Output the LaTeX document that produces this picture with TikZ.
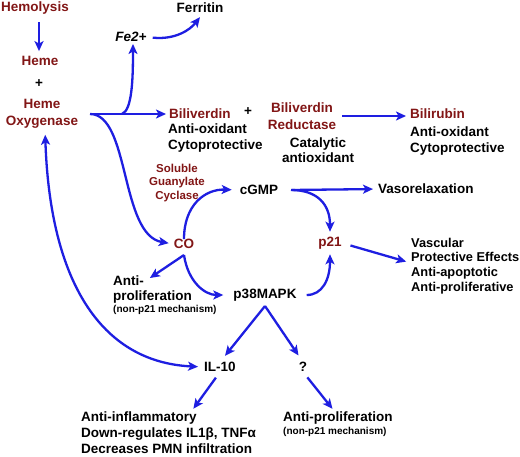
\documentclass[tikz,border=0pt]{standalone}
\usepackage{fontspec}
\setmainfont{Liberation Sans}
\usetikzlibrary{arrows.meta}
\definecolor{hred}{RGB}{130,22,22}
\definecolor{hblue}{RGB}{30,30,225}
\newcommand\tinyfnt{\bfseries\fontsize{10}{12}\selectfont}
\tikzset{
 lbl/.style={font=\bfseries\fontsize{13.5}{15}\selectfont, inner sep=0pt},
 rlbl/.style={lbl, text=hred},
 smalllbl/.style={font=\bfseries\fontsize{11.5}{13.5}\selectfont, inner sep=0pt},
 arr/.style={draw=hblue, line width=2.3pt, -{Stealth[length=10pt,width=9pt,inset=2.5pt]}},
 dblarr/.style={draw=hblue, line width=2.3pt, {Stealth[length=10pt,width=9pt,inset=2.5pt]}-{Stealth[length=10pt,width=9pt,inset=2.5pt]}},
}
\begin{document}
\begin{tikzpicture}[x=1pt,y=-1pt]
\useasboundingbox[fill=white] (0,0) rectangle (520,456);
% nodes
\node[rlbl] (hemolysis) at (35,8) {Hemolysis};
\node[rlbl] (heme) at (40,61) {Heme};
\node[lbl] (plus1) at (39,84) {+};
\node[rlbl, align=center, font=\bfseries\fontsize{13.5}{17}\selectfont] (ho) at (42,114) {Heme\\Oxygenase};
\node[lbl, font=\bfseries\itshape\fontsize{13.5}{15}\selectfont] (fe) at (131,37) {Fe2+};
\node[lbl] (ferritin) at (200,8) {Ferritin};
\node[rlbl, anchor=west] (biliverdin) at (169,114) {Biliverdin};
\node[lbl] (plus2) at (248,112) {+};
\node[lbl, anchor=north west, align=left, font=\bfseries\fontsize{13.5}{16}\selectfont] (bvtxt) at (168,124) {Anti-oxidant\\Cytoprotective};
\node[rlbl, align=center, font=\bfseries\fontsize{13.5}{17}\selectfont] (bvr) at (302,116) {Biliverdin\\Reductase};
\node[lbl, align=center, font=\bfseries\fontsize{13.5}{15.5}\selectfont] (cat) at (318,150) {Catalytic\\antioxidant};
\node[rlbl, anchor=west] (bilirubin) at (410,114) {Bilirubin};
\node[lbl, anchor=north west, align=left, font=\bfseries\fontsize{13.5}{15.5}\selectfont] (brtxt) at (410,127) {Anti-oxidant\\Cytoprotective};
\node[smalllbl, text=hred, align=center] (sgc) at (177,183) {Soluble\\Guanylate\\Cyclase};
\node[rlbl] (co) at (184,244) {CO};
\node[lbl] (cgmp) at (259,190) {cGMP};
\node[lbl, anchor=west] (vaso) at (378,189) {Vasorelaxation};
\node[rlbl] (p21) at (330,243) {p21};
\node[lbl, anchor=west, align=left, font=\bfseries\fontsize{12.8}{14.7}\selectfont] (vasc) at (411,266) {Vascular\\Protective Effects\\Anti-apoptotic\\Anti-proliferative};
\node[lbl, anchor=north west, align=left] (antip1) at (113,276) {Anti-\\proliferation\\[-3pt]{\tinyfnt(non-p21 mechanism)}};
\node[lbl] (p38) at (265,295) {p38MAPK};
\node[lbl] (il10) at (220,367) {IL-10};
\node[lbl] (q) at (303,367) {?};
\node[lbl, anchor=north west, align=left, font=\bfseries\fontsize{13.5}{16}\selectfont] (antiinf) at (81,412) {Anti-inflammatory\\Down-regulates IL1β, TNFα\\Decreases PMN infiltration};
\node[lbl, anchor=north west, align=left] (antip2) at (283,412) {Anti-proliferation\\[-2pt]{\tinyfnt(non-p21 mechanism)}};
% coordinates
\coordinate (hoout) at (90,114);
\coordinate (branch) at (122,114);
\coordinate (cgout) at (291,190);
\coordinate (cobot) at (184,255);
\coordinate (apex) at (265,306);
% connectors
\draw[arr, shorten <=8pt, shorten >=5pt] (hemolysis.south -| 39,0) -- (heme.north -| 39,0);
\draw[arr, shorten >=3pt] (hoout) -- (biliverdin.west);
\draw[arr] (branch) .. controls (132,110) and (133,80) .. ([xshift=2pt,yshift=-2pt]fe.south);
\draw[arr, shorten <=6pt] (fe.east) .. controls (175,40) and (190,30) .. ([yshift=-4pt]ferritin.south);
\draw[arr, shorten <=6pt, shorten >=4pt] (bvr.east |- 0,116) -- (bilirubin.west |- 0,116);
\draw[arr, shorten >=5pt] (hoout) .. controls (130,114) and (120,235) .. (co.west);
\draw[arr, shorten >=8pt] (co.north) .. controls (184,205) and (205,189) .. (cgmp.west);
\draw[arr, shorten <=1pt, shorten >=5pt] (cgout) -- (vaso.west);
\draw[arr, shorten >=5pt] (cgout) .. controls (318,190) and (330,205) .. (p21.north);
\draw[arr, shorten <=9pt, shorten >=5pt] (p21.east) -- ([yshift=3pt]vasc.west);
\draw[arr] (cobot) -- ([xshift=-15pt,yshift=-2pt]antip1.north);
\draw[arr, shorten >=10pt] (cobot) .. controls (188,282) and (205,295) .. (p38.west);
\draw[arr, shorten <=10pt, shorten >=5pt] (p38.east) .. controls (322,295) and (330,280) .. (p21.south);
\draw[arr, shorten >=8pt] (apex) -- (il10.north);
\draw[arr, shorten >=8pt] (apex) -- (q.north);
\draw[dblarr, shorten <=6pt, shorten >=6pt] (ho.south -| 45,0) .. controls (50,280) and (100,362) .. (il10.west);
\draw[arr, shorten <=7pt, shorten >=4pt] (il10.south) -- ([xshift=110pt]antiinf.north west);
\draw[arr, shorten <=7pt, shorten >=4pt] (q.south) -- ([xshift=52pt]antip2.north west);
\end{tikzpicture}
\end{document}
